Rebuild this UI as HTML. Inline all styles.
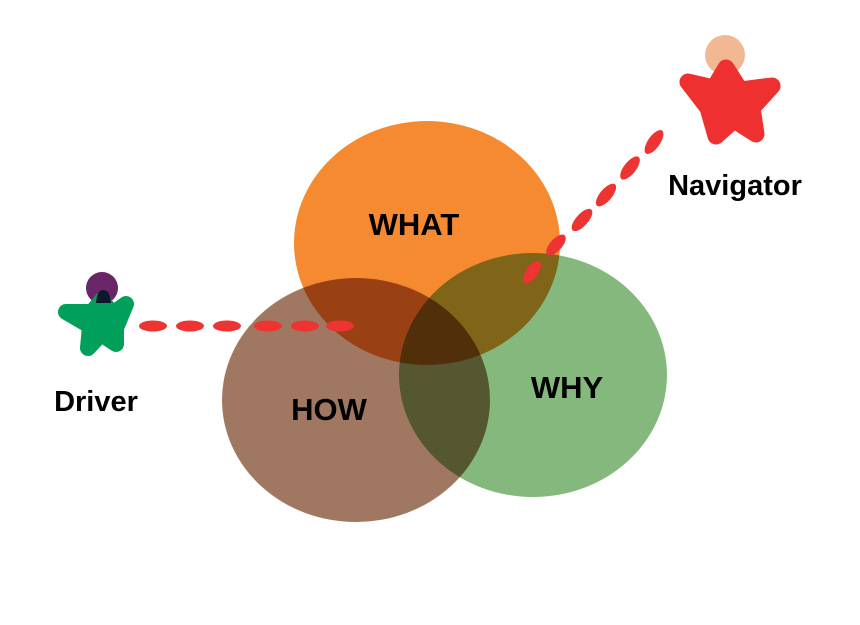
<!DOCTYPE html>
<html><head><style>body{margin:0;background:#fff}svg{display:block}text{font-family:"Liberation Sans",sans-serif;font-weight:bold;fill:#000}</style></head><body>
<svg width="860" height="625" viewBox="0 0 860 625">
<g style="isolation:isolate">
<ellipse cx="427" cy="243" rx="133" ry="122" fill="#f58a30"/>
<ellipse cx="356" cy="400" rx="134" ry="122" fill="#a07862" style="mix-blend-mode:multiply"/>
<ellipse cx="533" cy="375" rx="134" ry="122" fill="#85b87d" style="mix-blend-mode:multiply"/>
</g>
<text x="414" y="235" font-size="31" text-anchor="middle">WHAT</text>
<text x="329" y="420" font-size="31" text-anchor="middle">HOW</text>
<text x="567" y="398" font-size="31" text-anchor="middle">WHY</text>
<text x="96" y="411" font-size="29" text-anchor="middle">Driver</text>
<text x="735" y="195" font-size="29" text-anchor="middle">Navigator</text>
<circle cx="102" cy="288" r="16" fill="#6a2468"/>
<polygon points="102,300 112,314 126,304 116,328 116,344 101,334 88,348 90,326 66,312 92,312" fill="#00a05a" stroke="#00a05a" stroke-width="16" stroke-linejoin="round"/>
<path d="M96,303 Q97,290 103,290 Q110,290 111,303 Z" fill="#0a1a2a"/>
<g fill="#ee3333">
<ellipse cx="153" cy="326" rx="14" ry="5.5"/><ellipse cx="190" cy="326" rx="14" ry="5.5"/><ellipse cx="227" cy="326" rx="14" ry="5.5"/><ellipse cx="268" cy="326" rx="14" ry="5.5"/><ellipse cx="305" cy="326" rx="14" ry="5.5"/><ellipse cx="340" cy="326" rx="14" ry="5.5"/>
</g>
<circle cx="725" cy="55" r="20" fill="#f2b894"/>
<polygon points="726,68 740,90 772,86 752,108 756,134 734,120 716,136 708,108 688,82 714,88" fill="#ee3030" stroke="#ee3030" stroke-width="17" stroke-linejoin="round"/>
<g fill="#ee3333">
<ellipse cx="654" cy="142" rx="14" ry="6" transform="rotate(-55 654 142)"/>
<ellipse cx="630" cy="168" rx="14" ry="6" transform="rotate(-52 630 168)"/>
<ellipse cx="606" cy="195" rx="14" ry="6" transform="rotate(-50 606 195)"/>
<ellipse cx="582" cy="220" rx="14" ry="6" transform="rotate(-48 582 220)"/>
<ellipse cx="556" cy="245" rx="13" ry="6" transform="rotate(-48 556 245)"/>
<ellipse cx="532" cy="272" rx="13" ry="6" transform="rotate(-55 532 272)"/>
</g>
</svg>
</body></html>
